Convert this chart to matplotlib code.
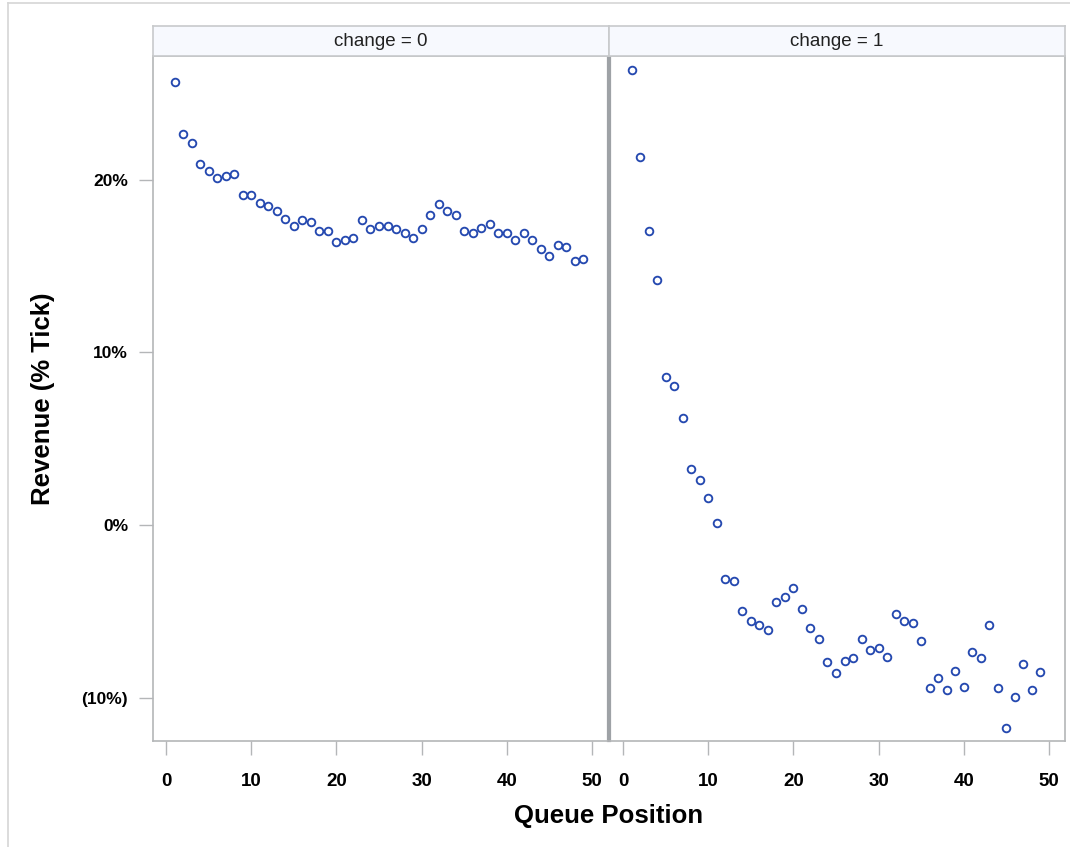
import matplotlib
matplotlib.use("Agg")
import matplotlib.pyplot as plt
from matplotlib.ticker import FuncFormatter, FixedLocator
from matplotlib.lines import Line2D
import numpy as np

# ---- data (Revenue as % of tick) ----
panel_labels = ["change = 0", "change = 1"]
queue_pos = list(range(1, 50))
revenue_change0 = [25.63, 22.66, 22.14, 20.92, 20.50, 20.09, 20.21, 20.31, 19.09, 19.09,
                   18.66, 18.47, 18.16, 17.74, 17.33, 17.66, 17.54, 17.02, 17.02, 16.41,
                   16.52, 16.60, 17.64, 17.12, 17.33, 17.33, 17.12, 16.93, 16.60, 17.12,
                   17.95, 18.57, 18.16, 17.95, 17.02, 16.91, 17.22, 17.45, 16.93, 16.93,
                   16.50, 16.93, 16.50, 16.00, 15.60, 16.21, 16.10, 15.29, 15.38]
revenue_change1 = [26.35, 21.31, 17.02, 14.17, 8.55, 8.03, 6.20, 3.22, 2.61, 1.58,
                   0.15, -3.13, -3.22, -4.96, -5.58, -5.77, -6.08, -4.46, -4.15, -3.63,
                   -4.86, -5.98, -6.60, -7.93, -8.55, -7.84, -7.72, -6.60, -7.22, -7.10,
                   -7.62, -5.15, -5.56, -5.67, -6.70, -9.46, -8.84, -9.57, -8.44, -9.36,
                   -7.32, -7.72, -5.77, -9.46, -11.72, -9.96, -8.03, -9.57, -8.53]
x_ticks = [0, 10, 20, 30, 40, 50]
y_ticks = [-10, 0, 10, 20]

W, H = 1070, 847
fig = plt.figure(figsize=(W / 100, H / 100), dpi=100)
fig.patch.set_facecolor("white")

FONT = "Liberation Sans"
frame_col = "#b4b6b8"
div_col = "#9ea2a6"
marker_col = "#2549b0"

def fx(px):
    return px / W

def fy(py):
    return 1 - py / H

ax_top, ax_bot = 56, 741
panels = [(153, 608), (610, 1065)]
series = [revenue_change0, revenue_change1]

def yfmt(v, pos):
    v = int(round(v))
    if v < 0:
        return f"({-v}%)"
    return f"{v}%"

axes = []
for i, ((x0, x1), vals) in enumerate(zip(panels, series)):
    ax = fig.add_axes([fx(x0), fy(ax_bot), fx(x1 - x0), (ax_bot - ax_top) / H])
    ax.plot(queue_pos, vals, linestyle="none", marker="o", markersize=5.5,
            markerfacecolor="white", markeredgecolor=marker_col, markeredgewidth=1.35)
    ax.set_xlim(-1.55, 51.9)
    ax.set_ylim(-12.5, 27.16)
    ax.xaxis.set_major_locator(FixedLocator(x_ticks))
    ax.yaxis.set_major_locator(FixedLocator(y_ticks))
    ax.yaxis.set_major_formatter(FuncFormatter(yfmt))
    ax.tick_params(axis="both", direction="out", length=10, width=1, color=frame_col)
    ax.tick_params(axis="x", pad=13, labelsize=13.5)
    ax.tick_params(axis="y", pad=8, labelsize=12.5)
    for lab in ax.get_xticklabels() + ax.get_yticklabels():
        lab.set_fontfamily(FONT)
        lab.set_fontweight("bold")
    for s in ax.spines.values():
        s.set_color(frame_col)
        s.set_linewidth(1.2)
    if i == 0:
        ax.spines["right"].set_color(div_col)
        ax.spines["right"].set_linewidth(1.6)
    else:
        ax.spines["left"].set_color(div_col)
        ax.spines["left"].set_linewidth(1.6)
        ax.tick_params(axis="y", left=False, labelleft=False)
    axes.append(ax)

    # strip header
    sx0 = 153 if i == 0 else 609
    sx1 = 609 if i == 0 else 1065
    sax = fig.add_axes([fx(sx0), fy(56), fx(sx1 - sx0), 30 / H])
    sax.set_facecolor("#f7f9fe")
    sax.set_xticks([])
    sax.set_yticks([])
    for s in sax.spines.values():
        s.set_color("#c8cacc")
        s.set_linewidth(1.2)
    sax.text(0.5, 0.5, panel_labels[i], ha="center", va="center",
             fontsize=13.5, family=FONT, color="#222222", transform=sax.transAxes)

fig.text(fx(609), fy(816), "Queue Position", ha="center", va="center",
         fontsize=18.5, fontweight="bold", family=FONT, color="black")
fig.text(fx(43), fy(399), "Revenue (% Tick)", ha="center", va="center", rotation=90,
         fontsize=18.5, fontweight="bold", family=FONT, color="black")

# light outer border (top and left)
fig.add_artist(Line2D([fx(8), 1], [fy(3), fy(3)], color="#d6d6d6", linewidth=1.2))
fig.add_artist(Line2D([fx(8), fx(8)], [fy(3), 0], color="#d6d6d6", linewidth=1.2))

fig.savefig("out.png", dpi=100, facecolor="white")
